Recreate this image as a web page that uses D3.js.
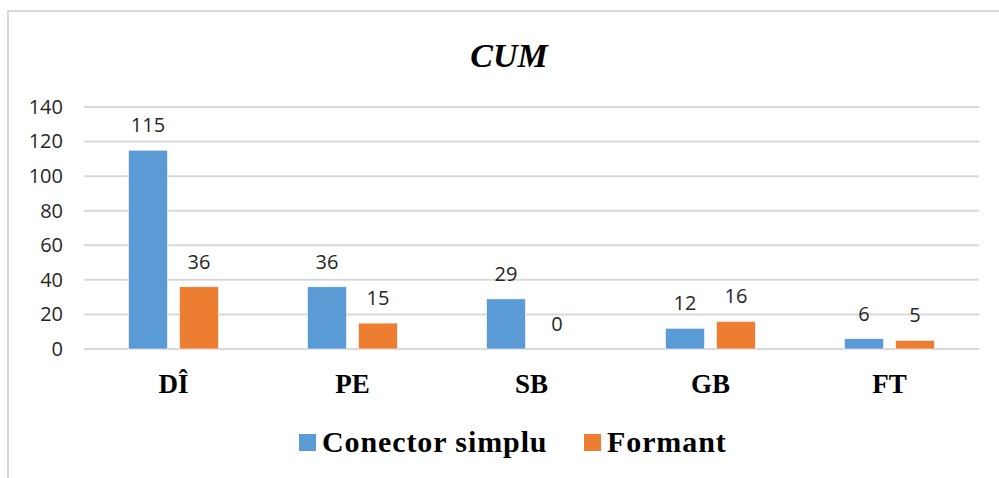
<!DOCTYPE html>
<html>
<head>
<meta charset="utf-8">
<script src="https://cdnjs.cloudflare.com/ajax/libs/d3/7.8.5/d3.min.js"></script>
<style>
  body { margin: 0; background: #fff; }
</style>
</head>
<body>
<script>
// data
var categories = ["DÎ", "PE", "SB", "GB", "FT"];
var seriesNames = ["Conector simplu", "Formant"];
var conectorSimplu = [115, 36, 29, 12, 6];
var formant = [36, 15, 0, 16, 5];
var yTicks = [0, 20, 40, 60, 80, 100, 120, 140];

var colors = ["#5B9BD5", "#ED7D31"];
var width = 999, height = 478;

var svg = d3.select("body")
  .append("svg")
  .attr("width", width)
  .attr("height", height);

// chart area border (only top and left visible)
svg.append("rect")
  .attr("x", 8).attr("y", 11)
  .attr("width", 1100).attr("height", 600)
  .attr("fill", "none")
  .attr("stroke", "#d9d9d9")
  .attr("stroke-width", 2);

// title
svg.append("text")
  .attr("x", 509).attr("y", 67)
  .attr("text-anchor", "middle")
  .style("font-family", "'Liberation Serif', serif")
  .style("font-weight", "bold")
  .style("font-style", "italic")
  .style("font-size", "34px")
  .text("CUM");

var plotLeft = 84, plotRight = 979, plotTop = 107, plotBottom = 349;

var y = d3.scaleLinear().domain([0, 140]).range([plotBottom, plotTop]);
var x0 = d3.scaleBand().domain(categories).range([plotLeft, plotRight]);
var x1 = d3.scaleBand().domain(seriesNames)
  .range([0, x0.bandwidth()])
  .paddingInner(0.235)
  .paddingOuter(0.873);

// gridlines
svg.append("g")
  .selectAll("line")
  .data(yTicks)
  .enter().append("line")
  .attr("x1", plotLeft).attr("x2", plotRight)
  .attr("y1", function (d) { return y(d); })
  .attr("y2", function (d) { return y(d); })
  .attr("stroke", "#d9d9d9")
  .attr("stroke-width", 2);

// y axis labels
var yAxis = d3.axisLeft(y).tickValues(yTicks).tickSize(0).tickPadding(0);
var yg = svg.append("g")
  .attr("transform", "translate(63,0)")
  .call(yAxis);
yg.select(".domain").remove();
yg.selectAll("text")
  .style("font-family", "'Open Sans', 'Liberation Sans', sans-serif")
  .style("font-size", "20px")
  .attr("fill", "#262626");

var rows = categories.map(function (c, i) {
  return { cat: c, values: [conectorSimplu[i], formant[i]] };
});

var groups = svg.append("g")
  .selectAll("g")
  .data(rows)
  .enter().append("g")
  .attr("transform", function (d) { return "translate(" + x0(d.cat) + ",0)"; });

groups.selectAll("rect")
  .data(function (d) { return d.values.map(function (v, j) { return { s: seriesNames[j], v: v, j: j }; }); })
  .enter().append("rect")
  .attr("x", function (d) { return x1(d.s); })
  .attr("width", x1.bandwidth())
  .attr("y", function (d) { return y(d.v); })
  .attr("height", function (d) { return plotBottom - y(d.v); })
  .attr("fill", function (d) { return colors[d.j]; })
  .attr("stroke", "#fff")
  .attr("stroke-width", 0.6);

// value labels
groups.selectAll("text")
  .data(function (d) { return d.values.map(function (v, j) { return { s: seriesNames[j], v: v }; }); })
  .enter().append("text")
  .attr("x", function (d) { return x1(d.s) + x1.bandwidth() / 2; })
  .attr("y", function (d) { return y(d.v) - 18; })
  .attr("text-anchor", "middle")
  .style("font-family", "'Open Sans', 'Liberation Sans', sans-serif")
  .style("font-size", "20px")
  .attr("fill", "#262626")
  .text(function (d) { return d.v; });

// category labels
svg.append("g")
  .selectAll("text")
  .data(categories)
  .enter().append("text")
  .attr("x", function (d) { return x0(d) + x0.bandwidth() / 2; })
  .attr("y", 393)
  .attr("text-anchor", "middle")
  .style("font-family", "'Liberation Serif', serif")
  .style("font-weight", "bold")
  .style("font-size", "27px")
  .text(function (d) { return d; });

// legend
var legendItems = [
  { name: seriesNames[0], color: colors[0], x: 299 },
  { name: seriesNames[1], color: colors[1], x: 584 }
];
var lg = svg.append("g")
  .selectAll("g")
  .data(legendItems)
  .enter().append("g")
  .attr("transform", function (d) { return "translate(" + d.x + ",0)"; });
lg.append("rect")
  .attr("x", 0).attr("y", 434)
  .attr("width", 17).attr("height", 17)
  .attr("fill", function (d) { return d.color; });
lg.append("text")
  .attr("x", 23).attr("y", 452)
  .style("font-family", "'Liberation Serif', serif")
  .style("font-weight", "bold")
  .style("font-size", "30px")
  .style("letter-spacing", "0.9px")
  .text(function (d) { return d.name; });
</script>
</body>
</html>
